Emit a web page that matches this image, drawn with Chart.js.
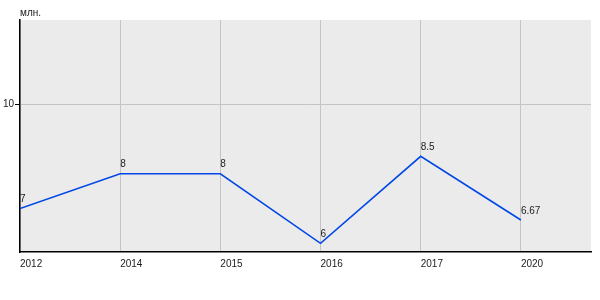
<!DOCTYPE html>
<html>
<head>
<meta charset="utf-8">
<script src="https://cdn.jsdelivr.net/npm/chart.js@4/dist/chart.umd.min.js"></script>
<style>
  html, body { margin: 0; padding: 0; background: #fff; }
  #wrap { width: 600px; height: 300px; }
</style>
</head>
<body>
<div id="wrap"><canvas id="grafico" width="600" height="300"></canvas></div>
<script>
const years = ['2012', '2014', '2015', '2016', '2017', '2020'];
const values = [7, 8, 8, 6, 8.5, 6.67];
const yTicks = [10];
const unitLabel = 'млн.';

const fontFamily = '"Liberation Sans", Arial, sans-serif';

// fondo gris del área del gráfico y etiquetas de datos
const plotExtras = {
    id: 'plotExtras',
    beforeDraw(chart) {
        const { ctx, chartArea } = chart;
        ctx.save();
        ctx.fillStyle = '#ebebeb';
        ctx.fillRect(chartArea.left, chartArea.top, chartArea.right - chartArea.left, chartArea.bottom - chartArea.top);
        ctx.restore();
    },
    afterDraw(chart) {
        const { ctx } = chart;
        ctx.save();
        ctx.font = '10px ' + fontFamily;
        ctx.fillStyle = '#222';
        ctx.textAlign = 'left';
        ctx.textBaseline = 'bottom';
        chart.getDatasetMeta(0).data.forEach((pt, i) => {
            ctx.fillText(String(values[i]), pt.x, pt.y - 4);
        });
        ctx.textBaseline = 'middle';
        ctx.fillText(unitLabel, chart.chartArea.left, 13);
        ctx.restore();
    }
};

const ctx = document.getElementById('grafico').getContext('2d');
new Chart(ctx, {
    type: 'line',
    data: {
        datasets: [{
            data: values.map((v, i) => ({ x: i, y: v })),
            borderColor: '#0047e6',
            borderWidth: 1.6,
            pointRadius: 0,
            tension: 0,
            fill: false
        }]
    },
    options: {
        responsive: false,
        animation: false,
        layout: { padding: { top: 20, right: 9, left: 0, bottom: 0 } },
        plugins: { legend: { display: false }, tooltip: { enabled: false } },
        scales: {
            x: {
                type: 'linear',
                min: 0,
                max: 5.7,
                afterBuildTicks(scale) {
                    scale.ticks = years.map((_, i) => ({ value: i }));
                },
                afterFit(scale) { scale.height = 48; },
                ticks: {
                    autoSkip: false,
                    maxRotation: 0,
                    align: 'start',
                    padding: 6,
                    color: '#222',
                    font: { size: 10, family: fontFamily },
                    callback: (v) => years[v]
                },
                grid: { color: '#c4c4c4', drawTicks: false },
                border: { color: '#000', width: 1.5 }
            },
            y: {
                min: 5.75,
                max: 12.42,
                afterBuildTicks(scale) {
                    scale.ticks = yTicks.map(v => ({ value: v }));
                },
                afterFit(scale) { scale.width = 20; },
                ticks: {
                    padding: 1,
                    color: '#222',
                    font: { size: 10, family: fontFamily }
                },
                grid: { color: '#c4c4c4', tickColor: '#000', tickLength: 5 },
                border: { color: '#000', width: 1.5 }
            }
        }
    },
    plugins: [plotExtras]
});
</script>
</body>
</html>
